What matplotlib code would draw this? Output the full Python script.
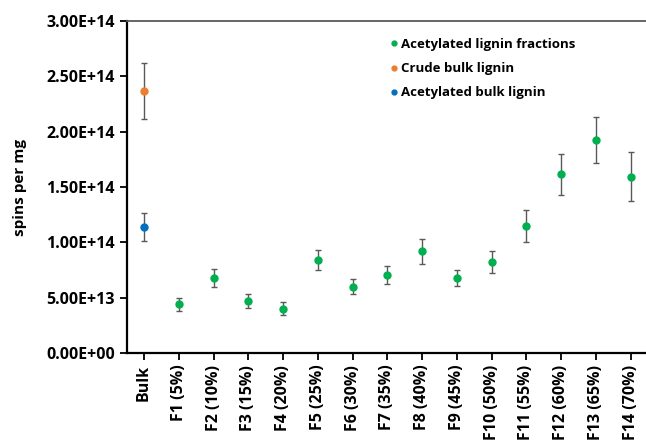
import numpy as np
import matplotlib
matplotlib.use("Agg")
import matplotlib.pyplot as plt
from matplotlib.lines import Line2D

plt.rcParams['font.family'] = ['Open Sans', 'DejaVu Sans']
plt.rcParams['font.weight'] = 'bold'

# data (spins per mg)
categories = ["Bulk", "F1 (5%)", "F2 (10%)", "F3 (15%)", "F4 (20%)", "F5 (25%)",
              "F6 (30%)", "F7 (35%)", "F8 (40%)", "F9 (45%)", "F10 (50%)",
              "F11 (55%)", "F12 (60%)", "F13 (65%)", "F14 (70%)"]
fraction_vals = [0.44e14, 0.675e14, 0.47e14, 0.40e14, 0.837e14, 0.60e14, 0.707e14,
                 0.918e14, 0.675e14, 0.82e14, 1.15e14, 1.614e14, 1.924e14, 1.593e14]
fraction_err = [0.06e14, 0.08e14, 0.062e14, 0.056e14, 0.092e14, 0.072e14, 0.08e14,
                0.115e14, 0.072e14, 0.10e14, 0.145e14, 0.182e14, 0.21e14, 0.222e14]
crude_val, crude_err = 2.37e14, 0.252e14
acet_bulk_val, acet_bulk_err = 1.14e14, 0.128e14
ytick_labels = ['0.00E+00', '5.00E+13', '1.00E+14', '1.50E+14',
                '2.00E+14', '2.50E+14', '3.00E+14']

green = '#00b050'
orange = '#ed7d31'
blue = '#0070c0'
errc = '#595959'

fig = plt.figure(figsize=(6.46, 4.40), dpi=100)
ax = fig.add_axes([0.196, 0.198, 0.807, 0.754])

x_frac = np.arange(1, len(categories))
ax.errorbar(x_frac, fraction_vals, yerr=fraction_err, fmt='o', color=green,
            ms=5, ecolor=errc, elinewidth=1.0, capsize=2.2, capthick=1.0,
            label='Acetylated lignin fractions', zorder=3)
ax.errorbar([0], [crude_val], yerr=[crude_err], fmt='o', color=orange,
            ms=5, ecolor=errc, elinewidth=1.0, capsize=2.2, capthick=1.0,
            label='Crude bulk lignin', zorder=3)
ax.errorbar([0], [acet_bulk_val], yerr=[acet_bulk_err], fmt='o', color=blue,
            ms=5, ecolor=errc, elinewidth=1.0, capsize=2.2, capthick=1.0,
            label='Acetylated bulk lignin', zorder=3)

ax.set_xlim(-0.5, len(categories) - 0.5)
ax.set_ylim(0, 3e14)
ax.set_yticks(np.linspace(0, 3e14, len(ytick_labels)))
ax.set_yticklabels(ytick_labels, fontsize=11.5, fontweight='bold')
ax.set_xticks(np.arange(len(categories)))
ax.set_xticklabels(categories, rotation=90, fontsize=11.5, fontweight='bold')
ax.set_ylabel('spins per mg', fontsize=11, fontweight='bold', labelpad=14)

for s in ['left', 'bottom']:
    ax.spines[s].set_linewidth(1.6)
    ax.spines[s].set_color('#000000')
ax.spines['top'].set_color('#595959')
ax.spines['top'].set_linewidth(1.3)
ax.spines['right'].set_visible(False)
ax.tick_params(axis='both', direction='out', length=5, width=1.3, colors='black')

labels = ax.get_legend_handles_labels()[1]
hh = [Line2D([], [], ls='none', marker='o', color=c, ms=3.5) for c in [green, orange, blue]]
ax.legend(hh, labels, loc='upper left', bbox_to_anchor=(0.477, 0.985), frameon=False,
          handletextpad=0.05, handlelength=1.0, labelspacing=0.85,
          prop={'weight': 'bold', 'size': 9.5})

fig.savefig('out.png', dpi=100)
